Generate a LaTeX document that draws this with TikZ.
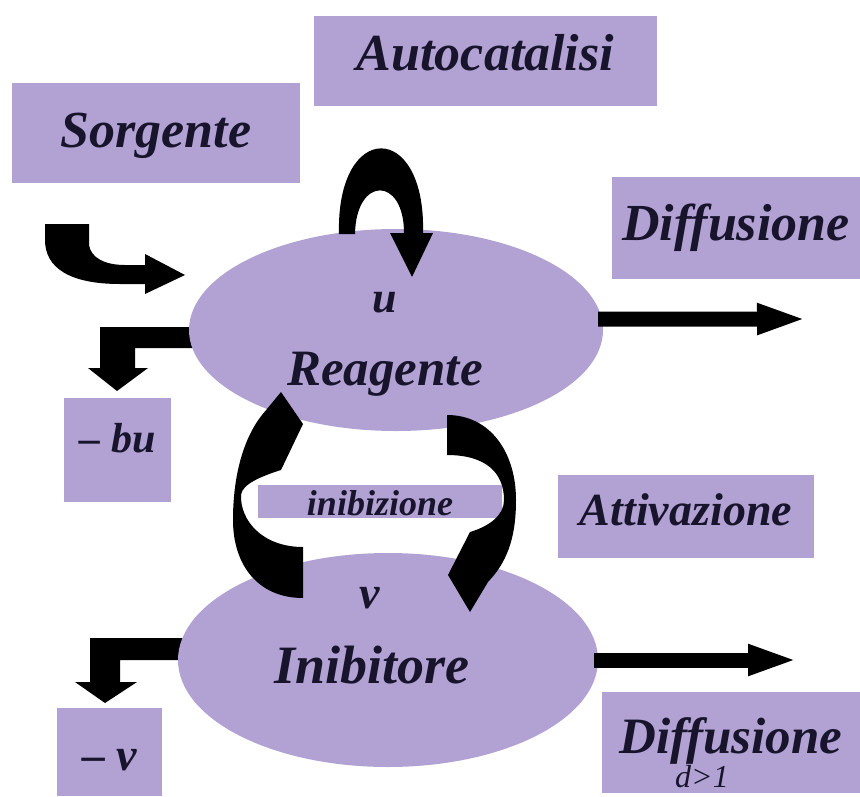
\documentclass[tikz,border=0pt]{standalone}
\usepackage{fontspec}
\setmainfont{Liberation Serif}
\usetikzlibrary{shapes.geometric,arrows.meta}
\definecolor{TRLilac}{RGB}{178,162,212}
\definecolor{TRInk}{RGB}{24,20,44}

\begin{document}
\begin{tikzpicture}[x=1pt,y=-1pt,
    box/.style={fill=TRLilac,text=TRInk,inner sep=0pt},
    blob/.style={ellipse,fill=TRLilac,inner sep=0pt},
    big/.style={font=\bfseries\itshape\fontsize{#1}{#1}\selectfont},
    lbl/.style={text=TRInk,inner sep=0pt,anchor=base,big=#1},
    flow/.style={line width=15pt,shorten <=-4pt,-{Triangle[length=50pt,width=28pt]}}]
  \useasboundingbox (0,0) rectangle (860,796);
  \node[box,big=52,minimum width=288pt,minimum height=100pt,text height=32pt,text depth=4pt] (sorg) at (156,133) {Sorgente};
  \node[box,big=52,minimum width=343pt,minimum height=90pt,text height=30pt,text depth=12pt] (autoc) at (485.5,61) {Autocatalisi};
  \node[box,big=52,minimum width=248pt,minimum height=102pt,text height=34pt,text depth=10pt] (diffu) at (736,228) {Diffusione};
  \node[box,big=46,minimum width=256pt,minimum height=83pt,text height=30pt,text depth=13pt] (attiv) at (686,516.5) {Attivazione};
  \node[box,big=36,minimum width=244pt,minimum height=33pt,text height=28pt,text depth=1pt] (inibz) at (380,501.5) {inibizione};
  \node[box,big=42,minimum width=107pt,minimum height=104pt,text height=24pt,text depth=20pt] (mbu) at (117.5,450) {– bu};
  \node[box,big=46,minimum width=105pt,minimum height=88pt,text height=40pt,text depth=4pt] (mv) at (109.5,752) {– v};
  \node[box,big=51,minimum width=258pt,minimum height=101pt,text height=32pt,text depth=11pt] (diffv) at (731,742.5) {Diffusione};
  \node[text=TRInk,inner sep=0pt,anchor=base,font=\itshape\fontsize{32}{32}\selectfont] (dcond) at (702,787) {d>1};

  \fill[black] (200,327) -- (100,327) -- (100,368) -- (88,368) -- (117,391) -- (148,368) -- (135,368) -- (135,348) -- (200,348) -- cycle;
  \fill[black] (186,638) -- (90,638) -- (90,682) -- (75,682) -- (105,703) -- (137,682) -- (120,682) -- (120,660) -- (186,660) -- cycle;

  \node[blob,minimum width=414pt,minimum height=202pt] (reag) at (396,330) {};
  \node[blob,minimum width=420pt,minimum height=214pt] (inib) at (388,660) {};
  \node[lbl=44] (ulab) at (385,312) {u};
  \node[lbl=51] (reaglab) at (385,385) {Reagente};
  \node[lbl=46] (vlab) at (370,608) {v};
  \node[lbl=54] (iniblab) at (372,683) {Inibitore};

  \fill[black] (339,234) .. controls (336,120) and (426,120) .. (423,233) -- (433,233) -- (412,277) -- (390,233) -- (404,233) .. controls (404,176) and (356,176) .. (355,234) -- cycle;
  \fill[black] (45,224) -- (89,224) -- (89,245) .. controls (91,258) and (105,265) .. (125,265) -- (145,265) -- (145,254) -- (185,275) -- (145,294) -- (145,284) -- (120,284) .. controls (70,284) and (45,268) .. (45,240) -- cycle;
  \fill[black] (303,547) -- (303,598) .. controls (258,598) and (233,565) .. (233,520) .. controls (233,470) and (246,435) .. (262,415) -- (281,392) -- (303,424) -- (281,470) .. controls (262,476) and (242,484) .. (241,495) .. controls (240,520) and (262,547) .. (303,547) -- cycle;
  \fill[black] (447,415) .. controls (490,415) and (516,452) .. (516,500) .. controls (516,540) and (506,563) .. (488,582) -- (470,612) -- (448,575) -- (470,532) .. controls (490,526) and (504,515) .. (504,500) .. controls (504,472) and (485,455) .. (447,455) -- cycle;

  \coordinate (diffutip) at (807,319);
  \coordinate (diffvtip) at (798,660);
  \draw[flow] (reag.3) -- (diffutip);
  \draw[flow] (inib.east) -- (diffvtip);
\end{tikzpicture}
\end{document}
